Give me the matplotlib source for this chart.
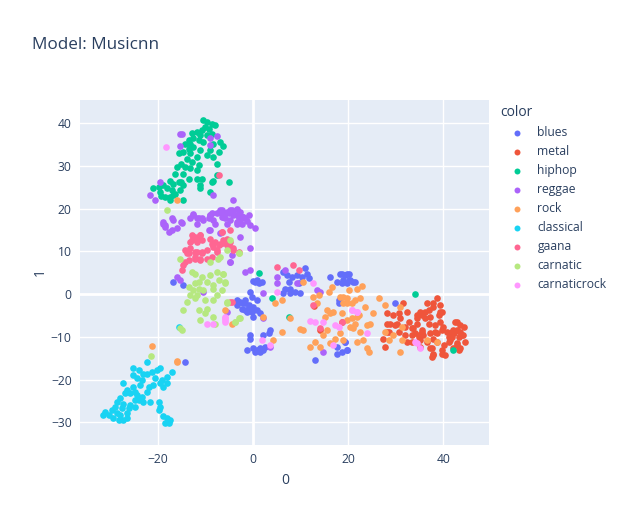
import matplotlib
matplotlib.use("Agg")
import matplotlib.pyplot as plt
from matplotlib.lines import Line2D

# ---------------- data ----------------
genres = ["blues", "metal", "hiphop", "reggae", "rock", "classical", "gaana", "carnatic", "carnaticrock"]
colors = ["#636EFA", "#EF553B", "#00CC96", "#AB63FA", "#FFA15A", "#19D3F3", "#FF6692", "#B6E880", "#FF97FF"]

blues_x = [0.5, -0.6, 1.2, 1.9, -0.2, -2.7, -1.6, -0.9, -2.3, -1.3, -0.2, 0.8, 1.5, 0.1, -3.4, -1.6,
           6.4, 7.1, 8.2, 9.2, 10.3, 11.3, 11.7, 10.9, 7.5, 6.8, 7.8, 8.9, 10.0, 7.8, 6.4, 9.6,
           3.6, 3.3, 2.2, -0.6, -0.6, -1.3, 0.1, 0.8, 1.5, 2.2, 1.5, 0.5, 2.6, 19.4,
           16.2, 18.3, 19.4, 20.1, 19.0, 20.4, 21.5, 19.7, 17.6, 18.0, 18.0, 13.1, 17.6, 17.6, 19.7,
           18.7, 19.7, 18.7, 20.1, 21.1, 29.9, 19.4, 19.7, 18.7,
           -3.4, -2.0, -0.9, 0.1, 0.8, -1.6, -0.2, 0.8, 0.1, -16.7, -14.6, -14.2]
blues_y = [2.9, 0.5, 2.5, 2.9, -0.6, -1.8, -2.2, -3.0, -3.4, -4.1, -4.1, -3.7, -4.5, -5.3, -2.6, -1.4,
           5.2, 4.4, 4.1, 4.4, 4.1, 4.8, 3.7, 6.0, 2.9, 1.3, 1.3, 0.5, 0.2, 0.2, 0.2, 2.5,
           -8.4, -9.2, -9.6, -9.6, -10.4, -13.1, -12.7, -13.1, -12.7, -13.1, -13.5, -13.5, -12.3, -11.1,
           4.1, 4.8, 4.4, 4.8, 3.3, 3.3, 2.9, 2.5, 2.9, -1.4, -2.2, -15.4, -13.9, -12.3, -13.1,
           4.8, 4.8, 2.5, 3.3, 2.9, -2.2, -11.1, -13.1, -13.5,
           -1.4, -2.2, -2.6, -3.0, -1.4, -3.7, -3.7, 3.3, 3.1, 2.9, 2.1, -15.8]

metal_x = [31.6, 28.1, 29.5, 30.6, 30.9, 32.7, 28.1, 28.8, 29.9, 28.1, 27.4, 30.6, 32.3, 33.4, 33.4,
           34.8, 35.5, 34.4, 35.1, 36.2, 36.9, 36.5, 37.9, 38.6, 37.9, 39.3, 39.7, 39.0, 37.2, 36.2,
           36.9, 38.3, 39.3, 39.7, 38.6, 37.2, 35.8, 36.5, 37.2, 37.9, 39.7, 40.4, 40.1, 41.5, 42.2,
           42.9, 43.2, 43.9, 44.3, 43.6, 42.5, 41.8, 41.1, 40.8, 44.6, 42.9, 43.2, 35.1, 33.4, 34.1,
           35.1, 37.6, 34.4, 12.9, 18.7, 14.1,
           30.2, 28.5, 27.8, 32.0, 33.7, 35.5, 34.8, 32.0, 32.3, 39.3, 40.0, 38.3, 37.9, 38.6, 37.6,
           37.9, 39.7, 42.8, 42.1, 43.5, 44.2, 41.8, 41.1, 42.8, 43.5, 42.1, 35.5, 34.4]
metal_y = [-2.2, -4.5, -4.9, -4.5, -5.7, -6.5, -6.9, -6.9, -7.3, -8.8, -10.4, -8.8, -4.1, -8.0, -9.6,
           -9.6, -8.8, -4.9, -4.1, -4.1, -3.7, -2.2, -3.0, -1.0, -2.2, -2.6, -4.1, -4.9, -5.3, -5.7,
           -6.9, -7.3, -6.5, -8.4, -9.2, -9.2, -9.6, -11.1, -12.7, -13.9, -13.1, -14.3, -11.9, -10.8, -9.2,
           -8.4, -10.0, -9.6, -7.6, -7.3, -6.5, -8.8, -10.0, -8.8, -11.1, -11.9, -13.1, -10.8, -11.1, -9.2,
           -12.3, -14.6, -6.9, -2.8, -6.5, -8.3,
           -6.9, -8.8, -12.3, -7.6, -8.0, -8.4, -10.0, -9.6, -11.2, -4.1, -7.6, -8.8, -10.4, -11.2, -12.7,
           -14.3, -13.9, -6.5, -8.4, -8.8, -9.6, -10.0, -11.2, -11.5, -12.7, -12.7, -4.9, -5.7]

hiphop_x = [-10.4, -9.6, -8.6, -7.9, -10.0, -10.7, -9.3, -11.8, -12.8, -11.1, -9.7, -8.6, -12.5, -13.5,
            -14.2, -13.2, -11.4, -10.4, -8.3, -6.9, -6.2, -13.5, -14.6, -15.6, -12.5, -11.1, -9.0, -7.2,
            -8.3, -9.7, -13.2, -11.8, -13.9, -15.0, -12.8, -11.4, -14.2, -16.0, -13.2, -11.8, -7.6, -16.3,
            -14.6, -11.8, -10.7, -13.5, -15.6, -16.7, -17.4, -18.8, -19.8, -20.9, -19.5, -18.1, -17.0,
            -15.0, -14.6, -15.3, -16.3, -17.4, -18.5, -19.2, -16.7, -11.1, -11.1, -8.6, -8.3, -7.6, -5.1,
            -14.6, -17.4, -9.0, 1.2, 4.1, 7.5, 34.1, 42.1]
hiphop_y = [40.7, 40.3, 39.9, 39.5, 39.1, 38.3, 38.7, 37.9, 37.7, 37.2, 37.2, 37.5, 36.4, 36.0,
            35.2, 35.2, 36.0, 35.6, 35.2, 35.6, 34.6, 34.0, 33.3, 32.9, 34.4, 33.6, 33.6, 33.3,
            32.1, 32.5, 32.9, 32.1, 31.7, 30.5, 30.9, 30.1, 29.8, 29.8, 29.4, 29.0, 30.5, 28.0,
            28.2, 27.0, 27.0, 26.9, 26.2, 25.7, 26.5, 25.5, 25.1, 24.7, 23.9, 24.7, 24.3,
            26.2, 25.5, 24.3, 23.5, 22.7, 22.7, 22.9, 23.1, 25.5, 24.7, 26.2, 26.5, 27.8, 26.2,
            22.0, 22.0, 23.9, 5.0, -0.8, -5.3, 0.0, -13.1]

reggae_x = [-15.3, -14.8, -9.0, -7.5, -15.3, -9.0, -19.4, -21.6, -20.5, -8.4, -4.1,
            -12.5, -11.8, -10.4, -9.0, -8.6, -6.9, -6.2, -5.1, -4.1, -3.4, -2.3, -1.6, -4.8, -5.5,
            -3.4, -7.9, -9.0, -6.9, -18.8, -18.4, -17.7, -17.0, -16.7, -14.9, -0.6, -4.8, -1.6,
            -0.6, -16.0, -15.3, -10.4,
            -18.8, -17.0, -15.0, -12.5, -10.7, -9.0, -6.9, -4.8, -3.4, -2.0, -6.2, -8.3, -11.8, -2.7, -0.9,
            -4.4, -4.8, 2.2, 6.8, 5.0, 5.0, 9.2, 13.4, 14.1, -5.5, 2.2, 3.6, 14.8,
            -11.4, -9.3, -7.6, -6.5, -5.5, -4.4, -2.7, -4.1, -5.8, -3.0, -2.0, -1.3, -2.3, -0.6, -3.4,
            -6.5, -9.3, -18.4, -16.0, -13.2, -2.7, 0.5]
reggae_y = [37.5, 37.5, 36.4, 36.9, 34.6, 34.8, 26.2, 23.1, 22.0, 23.1, 22.0,
            18.7, 17.7, 17.3, 18.5, 19.0, 19.3, 18.5, 18.9, 19.3, 18.5, 18.1, 17.7, 17.3, 16.5,
            16.9, 16.5, 15.0, 14.2, 16.5, 15.7, 14.6, 15.0, 17.3, 16.7, 10.7, 7.6, 5.2,
            5.6, 4.1, 3.3, 0.6,
            16.9, 17.7, 16.9, 18.4, 17.7, 18.4, 19.6, 19.6, 20.0, 18.1, 18.1, 17.3, 16.5, 17.3, 18.4,
            9.1, 7.6, 0.2, 5.6, 4.1, 2.5, 2.5, 0.9, 0.6, -4.1, -5.7, -12.3, -13.5,
            17.7, 17.7, 18.9, 19.6, 19.3, 19.6, 19.3, 18.5, 17.7, 17.7, 18.1, 17.0, 16.5, 16.1, 16.5,
            18.1, 15.0, 16.1, 15.4, 17.7, 13.4, 15.4]

rock_x = [6.1, 4.7, 2.2, 7.8, 6.1, 9.9, 10.6, 4.3, 12.0, 13.1, 14.1, 14.8, 15.5, 15.2, 16.2, 16.9,
          15.5, 13.4, 13.8, 15.9, 16.6, 18.3, 19.0, 19.7, 20.8, 18.7, 19.7, 20.4, 18.3, 17.3, 16.2,
          19.0, 21.1, 21.8, 10.6, 12.7, -5.8,
          22.9, 21.8, 20.1, 19.0, 19.7, 21.5, 22.5, 26.4, 27.8, 30.9, 25.3, 23.6, 22.2, 20.8, 21.5,
          23.9, 24.6, 22.5, 21.8, 23.2, 23.9, 24.3, 27.8, 28.5, 31.3, 30.9, 31.3, 38.6, 36.5, 29.5,
          -16.0, -15.9, -21.2, -15.9, -4.4]
rock_y = [-1.4, -2.2, -5.3, -5.7, -8.8, -8.2, -8.4, -10.7, -12.3, -11.1, -12.3, -9.6, -8.4, -5.3, -4.5, -4.1,
          -3.7, -2.2, -0.2, 0.5, 1.7, -0.6, -2.2, -1.0, -2.2, -4.5, -6.1, -7.6, -9.2, -10.4, -11.5,
          -10.7, -8.0, -5.3, 2.9, -0.6, -3.7,
          1.9, 1.3, 0.9, -0.6, -2.2, -1.4, -1.0, -1.0, -2.6, -3.0, -4.5, -3.0, -4.9, -5.7, -6.9,
          -7.3, -6.9, -8.8, -11.1, -10.8, -12.7, -13.5, -8.8, -10.8, -10.8, -13.5, -7.6, -11.1, -10.8, -9.6,
          21.9, -15.7, -12.2, -16.0, -7.0]

classical_x = [-22.3, -25.1, -24.0, -23.0, -25.1, -24.4, -23.3, -22.3, -21.2, -20.2, -19.5, -17.0, -18.1,
               -19.1, -20.5, -20.9, -19.5, -18.1, -18.8, -21.9, -23.7, -25.1, -27.2, -26.5, -26.8, -25.8,
               -24.4, -23.3, -23.0, -21.6, -24.0, -27.9, -28.6, -27.2, -25.8, -24.7, -26.1, -27.5, -28.9,
               -29.6, -31.0, -31.4, -30.3, -29.3, -28.6, -28.2, -27.2, -26.5, -27.9, -26.5, -19.8, -19.5,
               -19.8, -18.8, -18.1, -17.4, -18.4, -17.7, -24.7, -22.3, -24.7, -15.6]
classical_y = [-16.0, -17.4, -17.8, -18.6, -18.9, -19.7, -20.1, -18.6, -18.2, -17.8, -17.4, -18.2, -19.3,
               -20.1, -19.7, -21.3, -20.9, -20.7, -21.7, -21.7, -21.3, -21.7, -20.9, -22.5, -23.2, -23.2,
               -23.6, -24.0, -25.2, -25.2, -24.8, -24.4, -25.2, -25.6, -25.9, -26.4, -26.7, -26.7, -26.4,
               -27.1, -27.5, -28.3, -28.3, -29.1, -27.9, -29.5, -29.5, -29.1, -28.3, -27.9, -25.2, -26.4,
               -27.1, -28.5, -29.1, -29.5, -30.2, -30.2, -24.8, -22.8, -22.8, -7.6]

gaana_x = [-12.8, -12.1, -11.1, -13.2, -11.8, -14.2, -13.5, -12.1, -10.7, -9.7, -9.0, -8.6, -6.9, -5.5,
           -4.8, -4.8, -6.5, -7.6, -9.7, -11.1, -12.1, -13.5, -14.2, -14.6, -14.9, -8.6, -8.3, -6.2,
           -4.1, -3.0, -4.8, -7.2, 5.0, 8.5, 9.6, -4.4, 12.7, 14.1, 18.7,
           -11.1, -12.8, -11.8, -10.7, -13.2, -13.9, -11.8, -10.7, -12.1, -11.1, -7.9, -7.2, -6.2,
           -6.5, -5.5, -5.1, -4.1, -7.6]
gaana_y = [13.8, 13.4, 13.8, 12.2, 12.2, 10.3, 9.5, 9.9, 9.9, 10.3, 13.0, 11.8, 11.8, 11.5,
           12.2, 15.0, 14.6, 9.9, 8.3, 8.0, 8.3, 8.0, 7.6, 6.8, 5.6, 8.7, 11.1, 12.6,
           10.3, 9.9, -1.8, 27.8, 6.4, 6.8, 5.6, -1.8, -2.6, -8.0, -6.5,
           13.8, 12.6, 12.6, 12.6, 10.7, 9.5, 9.9, 9.5, 8.7, 8.3, 12.2, 11.5, 11.9,
           14.6, 13.0, 11.5, 10.7, 10.3]

carnatic_x = [-18.1, -12.8, -12.1, -10.7, -9.0, -7.6, -6.2, -5.8, -7.2, -8.3, -9.7, -11.4, -12.1, -13.5,
              -12.5, -11.4, -10.4, -8.3, -6.5, -13.2, -11.8, -12.1, -10.0, -8.3, -7.6, -13.9, -14.6,
              -11.4, -9.7, -10.0, -11.1, -8.3, -7.9, -5.5, -3.0, -3.7, -7.4, -6.9, -5.5, -4.8, -3.0,
              -15.3, -9.0, -15.3, -6.2, -5.8, -3.0, -5.5, -3.7, -2.7, -21.4, -14.9]
carnatic_y = [19.6, 5.2, 4.8, 4.1, 4.4, 5.2, 4.8, 2.9, 3.3, 2.1, 2.9, 2.9, 2.5, 1.7,
              0.9, 1.3, 0.9, 1.3, 0.9, -0.2, -0.2, -1.0, -1.4, -1.4, -0.2, -1.8, -3.7,
              -3.7, -3.4, -4.5, -6.1, -5.3, -6.9, -1.8, -5.7, -6.5, 8.3, 8.7, 10.3, 12.6, 9.5,
              8.3, 7.6, -8.0, 4.8, 2.5, 9.5, -2.2, -6.5, -5.7, -14.5, -8.4]

carnaticrock_x = [-18.2, -5.8, -5.8, -9.7, -8.3, -5.8, -5.8, 5.0, 12.7, 12.0, 13.1, 14.8, 1.9, 17.3,
                  18.0, 16.9, 21.8, 20.8, 3.6, 20.8, 21.8, 23.9, 34.1, 34.4, 35.1]
carnaticrock_y = [34.3, -5.7, -6.5, -6.9, -6.9, -5.3, -6.1, 0.5, 2.5, -6.2, -6.5, -6.5, -10.7, -7.2,
                  -7.6, -11.9, -4.1, -3.7, -11.9, -3.7, -4.1, -9.2, -11.1, -11.5, -12.7]

x_ticks = [-20, 0, 20, 40]
y_ticks = [-30, -20, -10, 0, 10, 20, 30, 40]

series = [
    (blues_x, blues_y), (metal_x, metal_y), (hiphop_x, hiphop_y), (reggae_x, reggae_y),
    (rock_x, rock_y), (classical_x, classical_y), (gaana_x, gaana_y),
    (carnatic_x, carnatic_y), (carnaticrock_x, carnaticrock_y),
]

# ---------------- figure ----------------
W, H = 629, 525
DPI = 100
plt.rcParams["font.family"] = ["Open Sans", "DejaVu Sans"]
fig = plt.figure(figsize=(W / DPI, H / DPI), dpi=DPI)
fig.patch.set_facecolor("white")

left, right, top, bottom = 80, 489, 100, 445
ax = fig.add_axes([left / W, 1 - bottom / H, (right - left) / W, (bottom - top) / H])
ax.set_facecolor("#E5ECF6")
for s in ax.spines.values():
    s.set_visible(False)

ax.set_xlim(-36.3, 49.6)
ax.set_ylim(-35.3, 45.4)
ax.set_xticks(x_ticks)
ax.set_yticks(y_ticks)
ax.grid(True, color="white", linewidth=1.0)
ax.set_axisbelow(True)
ax.axvline(0, color="white", linewidth=2.0, zorder=0.5)
ax.axhline(0, color="white", linewidth=2.0, zorder=0.5)
ax.tick_params(length=0, labelsize=8.7, labelcolor="#2a3f5f", pad=6)

text_color = "#2a3f5f"
msize = 23
for (xs, ys), name, c in zip(series, genres, colors):
    ax.scatter(xs, ys, s=msize, c=c, linewidths=0, label=name, zorder=2)

# axis titles
fig.text(285 / W, 1 - 480 / H, "0", ha="center", va="center", fontsize=10, color=text_color)
fig.text(40 / W, 1 - 272 / H, "1", ha="center", va="center", fontsize=10, color=text_color, rotation=90)

# title
fig.text(32 / W, 1 - 45 / H, "Model: Musicnn", ha="left", va="center", fontsize=12.3, color=text_color)

# legend (manual, plotly-like)
fig.text(500 / W, 1 - 113 / H, "color", ha="left", va="center", fontsize=10, color=text_color)
for i, (name, c) in enumerate(zip(genres, colors)):
    yy = 1 - (132.7 + 19 * i) / H
    fig.add_artist(Line2D([517.3 / W], [yy], marker="o", markersize=4.3, color=c,
                          markeredgewidth=0, linestyle="none", transform=fig.transFigure))
    fig.text(537.5 / W, yy, name, ha="left", va="center", fontsize=8.7, color=text_color)

fig.savefig("out.png", dpi=DPI)
